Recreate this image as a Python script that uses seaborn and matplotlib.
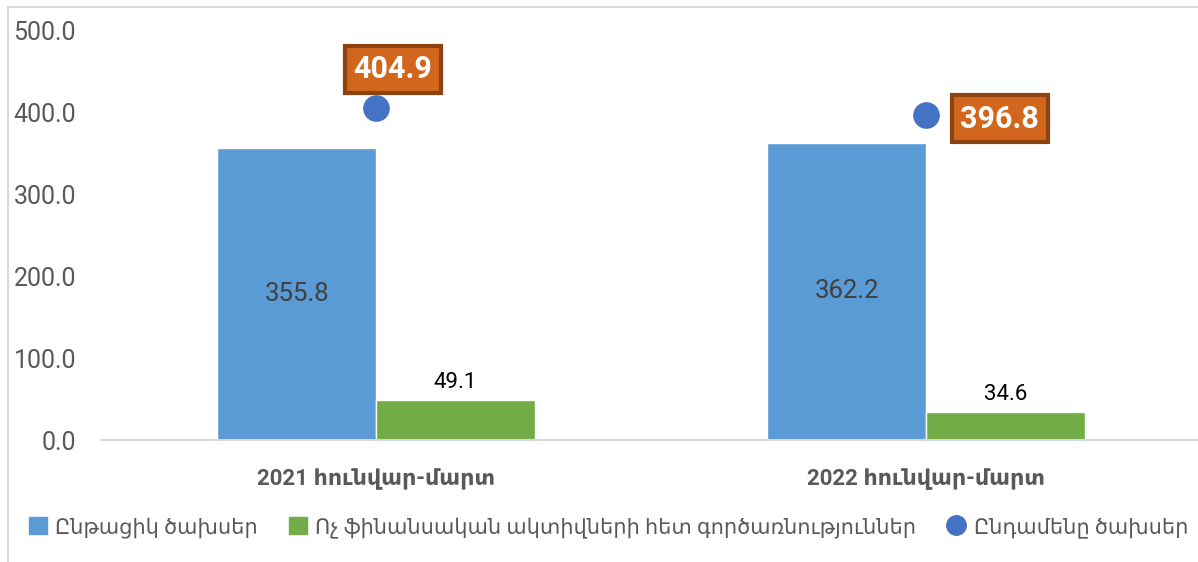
import pandas as pd
import seaborn as sns
import matplotlib
from matplotlib import pyplot as plt
from matplotlib.patches import Patch, Rectangle
from matplotlib.lines import Line2D

# Տվյալներ
periods = ['2021 հունվար-մարտ', '2022 հունվար-մարտ']
current_exp = [355.8, 362.2]
nonfin_ops = [49.1, 34.6]
total_exp = [404.9, 396.8]
series_names = ['Ընթացիկ ծախսեր',
                'Ոչ ֆինանսական ակտիվների հետ գործառնություններ',
                'Ընդամենը ծախսեր']
yticks = [0, 100, 200, 300, 400, 500]

blue = '#5B9BD5'
green = '#70AD47'
dot = '#4472C4'
grey = '#595959'

df = pd.DataFrame({
    'period': periods * 2,
    'value': current_exp + nonfin_ops,
    'series': [series_names[0]] * 2 + [series_names[1]] * 2,
})

sns.set_style('white')
plt.rcParams['font.family'] = ['Roboto', 'DejaVu Sans']

fig = plt.figure(figsize=(11.98, 5.62), dpi=100)
ax = fig.add_axes([101 / 1198, 122 / 562, 1100 / 1198, 410 / 562])

sns.barplot(data=df, x='period', y='value', hue='series',
            palette=[blue, green], width=0.578, gap=0,
            saturation=1, ax=ax, legend=False)

ax.scatter(range(len(periods)), total_exp, s=330, color=dot, zorder=5)

# արժեքների պիտակներ
for i, v in enumerate(current_exp):
    ax.text(i - 0.144, v / 2, f'{v:.1f}', ha='center', va='center',
            fontsize=18.5, color='#404040')
for i, v in enumerate(nonfin_ops):
    ax.annotate(f'{v:.1f}', (i + 0.144, v), xytext=(0, 5),
                textcoords='offset points', ha='center', va='bottom',
                fontsize=16, color='black')

box = dict(boxstyle='square,pad=0.28', fc='#D2661C', ec='#8C4310', lw=3)
offsets = [(12, 28), (53, -3)]
for i, v in enumerate(total_exp):
    ax.annotate(f'{v:.1f}', (i, v), xytext=offsets[i],
                textcoords='offset points', ha='center', va='center',
                fontsize=22, fontweight='bold', color='white', bbox=box,
                zorder=6)

ax.set_ylim(0, 500)
ax.set_xlim(-0.5, 1.5)
ax.set_yticks(yticks)
ax.set_yticklabels([f'{t:.1f}' for t in yticks])
ax.set_xlabel('')
ax.set_ylabel('')
ax.tick_params(axis='y', length=0, pad=18, labelsize=18, labelcolor=grey)
ax.tick_params(axis='x', length=0, pad=20, labelsize=16, labelcolor=grey)
for lab in ax.get_xticklabels():
    lab.set_fontweight('bold')

sns.despine(ax=ax, left=True, top=True, right=True)
ax.spines['bottom'].set_color('#D9D9D9')
ax.spines['bottom'].set_linewidth(1.5)

handles = [
    Patch(color=blue),
    Patch(color=green),
    Line2D([], [], marker='o', linestyle='', color=dot, markersize=14),
]
fig.legend(handles, series_names, loc='center', ncol=3,
           bbox_to_anchor=(0.508, 0.062), frameon=False, fontsize=15,
           labelcolor=grey, handlelength=0.85, handleheight=0.85,
           handletextpad=0.4, columnspacing=1.5)

# շրջանակ
fig.patches.append(Rectangle((8 / 1198, -0.05), 1.1, 555 / 562 + 0.05,
                             transform=fig.transFigure, fill=False,
                             ec='#D9D9D9', lw=1.5))

plt.savefig('out.png', dpi=100)
